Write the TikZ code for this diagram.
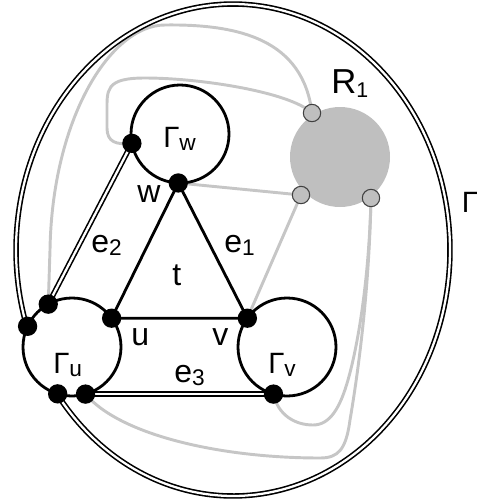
\documentclass[tikz,border=0pt]{standalone}
\usepackage{fontspec}
\setmainfont{Liberation Sans}
\pgfdeclarelayer{bg}
\pgfsetlayers{bg,main}
\definecolor{lgray}{HTML}{C6C6C6}
\definecolor{dgray}{HTML}{BFBFBF}
\definecolor{portline}{HTML}{404040}
\newcommand{\lsub}[1]{\raisebox{-2.6pt}{\fontsize{17}{17}\selectfont #1}}
\newcommand{\GG}{{\fontsize{22}{24}\selectfont Γ}}
\begin{document}
\begin{tikzpicture}[x=0.75pt,y=-0.75pt,
  blk/.style={draw=black, line width=2.1pt, line join=round},
  dbl/.style={draw=black, double=white, line width=1.2pt, double distance=1.7pt},
  gline/.style={draw=lgray, line width=2.2pt},
  bdot/.style={circle, fill=black, inner sep=0pt, minimum size=14.5pt},
  port/.style={circle, fill=dgray, draw=portline, line width=0.8pt, inner sep=0pt, minimum size=13pt},
  ring/.style={circle, draw=black, line width=2.1pt, inner sep=0pt, outer sep=0pt, minimum size=73.5pt},
  lab/.style={inner sep=0pt, anchor=base west, font=\fontsize{24}{26}\selectfont},
]
\useasboundingbox (0,0) rectangle (477,504);

% rings and region
\node[ring] (Gw) at (180,134) {};
\node[ring] (Gu) at (72,347) {};
\node[ring] (Gv) at (287,347) {};
\node[circle, fill=dgray, inner sep=0pt, minimum size=75pt] (R) at (340,157) {};

% vertices on the rings
\node[bdot] (w)  at (Gw.268) {};
\node[bdot] (wl) at (Gw.191.5) {};
\node[bdot] (u)  at (Gu.36.6) {};
\node[bdot] (ua) at (Gu.119) {};
\node[bdot] (ub) at (Gu.155.6) {};
\node[bdot] (uc) at (Gu.253.4) {};
\node[bdot] (ud) at (Gu.286) {};
\node[bdot] (v)  at (Gv.144.7) {};
\node[bdot] (vb) at (Gv.254.5) {};

% ports of R1
\node[port] (pA) at (312,113) {};
\node[port] (pB) at (301,195) {};
\node[port] (pC) at (371,198) {};

\begin{pgfonlayer}{bg}
  % gray connections
  \draw[gline] (pA.center) .. controls (303,40) and (240,24) .. (165,25)
     .. controls (110,25) and (52,120) .. (50,250) -- (ua.center);
  \draw[gline] (pA.center) .. controls (290,92) and (200,78) .. (145,78)
     .. controls (105,78) and (107,90) .. (107,112) -- (107,128)
     .. controls (107,142) and (116,145) .. (wl.center);
  \draw[gline] (w.center) -- (pB.center);
  \draw[gline] (pB.center) -- (v.center);
  \draw[gline] (pC.center) .. controls (369,300) and (356,385) .. (350,420)
     .. controls (346,450) and (338,458) .. (320,458)
     .. controls (220,458) and (120,435) .. (ud.center);
  \draw[gline] (pC.center) .. controls (369,280) and (358,345) .. (348,380)
     .. controls (340,408) and (330,425) .. (313,425)
     .. controls (295,425) and (278,415) .. (vb.center);
  % outer boundary Gamma
  \draw[dbl] (ub.center) -- plot[domain=162:504, samples=240]
     ({233+217*cos(\x)},{250+246*sin(\x)}) -- (uc.center);
  % double edges
  \draw[dbl] (wl.center) -- (ua.center);
  \draw[dbl] (ud.center) -- (vb.center);
  % triangle t
  \draw[blk] (w.center) -- (u.center) -- (v.center) -- cycle;
\end{pgfonlayer}

% labels
\node[lab] (lGw) at (163,147) {\GG\lsub{w}};
\node[lab] (lw)  at (137,202) {w};
\node[lab] (le2) at (91,252) {e\lsub{2}};
\node[lab] (le1) at (224,252) {e\lsub{1}};
\node[lab] (lt)  at (172,285) {t};
\node[lab] (lu)  at (131,345) {u};
\node[lab] (lv)  at (212,345) {v};
\node[lab] (lGu) at (53,373) {\GG\lsub{u}};
\node[lab] (le3) at (174,382) {e\lsub{3}};
\node[lab] (lGv) at (268,373) {\GG\lsub{v}};
\node[inner sep=0pt, anchor=base west, font=\fontsize{26}{28}\selectfont] (lR) at (331,93)
   {R\raisebox{-3pt}{\fontsize{16}{16}\selectfont 1}};
\node[lab] (lG) at (461.5,212) {\GG};
\end{tikzpicture}
\end{document}
